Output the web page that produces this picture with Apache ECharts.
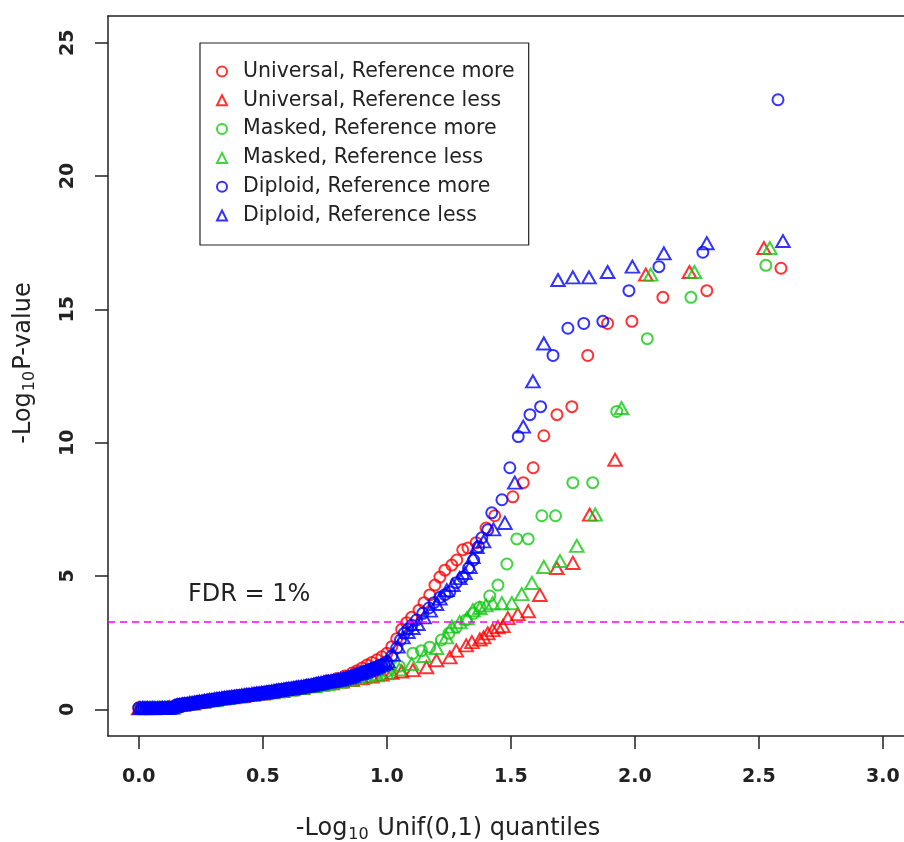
<!DOCTYPE html>
<html>
<head>
<meta charset="utf-8">
<title>QQ plot</title>
<script src="https://cdn.jsdelivr.net/npm/echarts@6/dist/echarts.min.js"></script>
<style>
  html, body { margin: 0; padding: 0; background: #fff; }
  #main { width: 904px; height: 842px; }
</style>
</head>
<body>
<div id="main"></div>
<script>
// tick values
var xTicks = [0, 0.5, 1.0, 1.5, 2.0, 2.5, 3.0];
var yTicks = [0, 5, 10, 15, 20, 25];
var fdrLevel = 3.3;

var seriesNames = [
  'Universal, Reference more', 'Universal, Reference less',
  'Masked, Reference more', 'Masked, Reference less',
  'Diploid, Reference more', 'Diploid, Reference less'
];

var universalMore = [
  [0.00,0.06],[0.02,0.06],[0.04,0.06],[0.06,0.06],[0.08,0.06],[0.10,0.07],[0.12,0.08],[0.14,0.10],
  [0.16,0.18],[0.18,0.21],[0.20,0.24],[0.24,0.30],[0.28,0.36],[0.32,0.42],[0.36,0.47],[0.40,0.52],
  [0.44,0.57],[0.48,0.62],[0.52,0.67],[0.56,0.73],[0.60,0.79],[0.64,0.85],[0.68,0.91],[0.72,0.99],
  [0.76,1.07],[0.80,1.16],[0.83,1.25],[0.86,1.36],[0.88,1.45],[0.90,1.55],[0.92,1.66],[0.94,1.76],
  [0.96,1.86],[0.98,1.97],[1.00,2.10],[1.02,2.35],[1.04,2.65],[1.06,3.00],[1.08,3.25],[1.10,3.45],
  [1.13,3.72],[1.15,4.00],[1.173,4.29],[1.194,4.66],[1.214,4.96],[1.234,5.22],[1.262,5.41],[1.282,5.60],
  [1.306,5.98],[1.327,6.05],[1.36,6.25],[1.40,6.80],[1.435,7.26],[1.508,7.97],[1.55,8.50],[1.59,9.06],
  [1.633,10.26],[1.686,11.05],[1.746,11.35],[1.81,13.27],[1.89,14.47],[1.988,14.55],[2.113,15.45],
  [2.29,15.70],[2.589,16.54]
];
var universalLess = [
  [0.00,0.04],[0.03,0.04],[0.06,0.04],[0.09,0.05],[0.12,0.06],[0.15,0.12],[0.18,0.17],[0.22,0.22],
  [0.26,0.28],[0.30,0.34],[0.34,0.40],[0.38,0.45],[0.42,0.50],[0.46,0.55],[0.50,0.59],[0.54,0.64],
  [0.58,0.69],[0.62,0.75],[0.66,0.80],[0.70,0.86],[0.74,0.92],[0.78,0.98],[0.82,1.04],[0.86,1.10],
  [0.90,1.16],[0.94,1.23],[0.98,1.30],[1.02,1.37],[1.06,1.42],[1.105,1.47],[1.16,1.58],[1.20,1.84],
  [1.254,1.95],[1.28,2.20],[1.32,2.40],[1.343,2.52],[1.375,2.62],[1.39,2.70],[1.407,2.85],[1.427,2.97],
  [1.448,3.08],[1.468,3.12],[1.488,3.42],[1.528,3.57],[1.57,3.68],[1.617,4.29],[1.685,5.30],[1.75,5.49],
  [1.818,7.30],[1.92,9.36],[2.044,16.30],[2.22,16.40],[2.52,17.30]
];
var maskedMore = [
  [0.01,0.05],[0.04,0.05],[0.07,0.05],[0.10,0.06],[0.13,0.07],[0.16,0.15],[0.20,0.20],[0.25,0.27],
  [0.30,0.34],[0.35,0.41],[0.40,0.47],[0.45,0.53],[0.50,0.59],[0.55,0.66],[0.60,0.72],[0.65,0.79],
  [0.70,0.86],[0.75,0.94],[0.80,1.02],[0.85,1.10],[0.90,1.20],[0.95,1.30],[1.00,1.42],[1.05,1.62],
  [1.105,2.10],[1.14,2.20],[1.173,2.33],[1.22,2.60],[1.25,2.85],[1.28,3.08],[1.32,3.35],[1.35,3.60],
  [1.375,3.83],[1.415,4.25],[1.448,4.66],[1.484,5.45],[1.524,6.39],[1.57,6.39],[1.625,7.26],[1.68,7.26],
  [1.75,8.50],[1.83,8.50],[1.927,11.17],[2.05,13.90],[2.226,15.45],[2.528,16.65]
];
var maskedLess = [
  [0.02,0.05],[0.05,0.05],[0.08,0.05],[0.11,0.06],[0.14,0.08],[0.17,0.17],[0.21,0.22],[0.26,0.29],
  [0.31,0.35],[0.36,0.42],[0.41,0.48],[0.46,0.54],[0.51,0.60],[0.56,0.67],[0.61,0.73],[0.66,0.80],
  [0.71,0.87],[0.76,0.95],[0.81,1.03],[0.86,1.11],[0.91,1.20],[0.96,1.28],[1.00,1.35],[1.05,1.50],
  [1.10,1.70],[1.15,2.00],[1.20,2.30],[1.24,2.70],[1.262,3.10],[1.294,3.27],[1.323,3.42],[1.347,3.72],
  [1.375,3.80],[1.40,3.90],[1.427,3.98],[1.464,3.98],[1.504,3.98],[1.544,4.32],[1.585,4.74],[1.633,5.34],
  [1.698,5.56],[1.766,6.13],[1.84,7.30],[1.946,11.30],[2.064,16.30],[2.24,16.40],[2.544,17.30]
];
var diploidMore = [
  [0.00,0.05],[0.01,0.05],[0.02,0.05],[0.03,0.05],[0.04,0.05],[0.05,0.05],[0.06,0.05],[0.07,0.05],
  [0.08,0.05],[0.09,0.06],[0.10,0.06],[0.11,0.06],[0.12,0.07],[0.13,0.07],[0.14,0.08],[0.15,0.15],
  [0.16,0.17],[0.17,0.18],[0.18,0.19],[0.19,0.21],[0.20,0.22],[0.21,0.24],[0.22,0.25],[0.23,0.27],
  [0.24,0.28],[0.25,0.30],[0.26,0.31],[0.27,0.33],[0.28,0.34],[0.29,0.36],[0.30,0.37],[0.31,0.38],
  [0.32,0.40],[0.33,0.41],[0.34,0.43],[0.35,0.44],[0.36,0.45],[0.37,0.46],[0.38,0.48],[0.39,0.49],
  [0.40,0.50],[0.41,0.51],[0.42,0.52],[0.43,0.54],[0.44,0.55],[0.45,0.56],[0.46,0.57],[0.47,0.59],
  [0.48,0.60],[0.49,0.61],[0.50,0.62],[0.51,0.64],[0.52,0.65],[0.53,0.67],[0.54,0.68],[0.55,0.70],
  [0.56,0.71],[0.57,0.73],[0.58,0.74],[0.59,0.76],[0.60,0.77],[0.61,0.78],[0.62,0.80],[0.63,0.81],
  [0.64,0.83],[0.65,0.84],[0.66,0.86],[0.67,0.87],[0.68,0.89],[0.69,0.90],[0.70,0.92],[0.71,0.94],
  [0.72,0.96],[0.73,0.98],[0.74,1.00],[0.75,1.02],[0.76,1.04],[0.77,1.05],[0.78,1.07],[0.79,1.08],
  [0.80,1.10],[0.81,1.12],[0.82,1.14],[0.83,1.17],[0.84,1.19],[0.85,1.22],[0.86,1.25],[0.87,1.28],
  [0.88,1.32],[0.89,1.35],[0.90,1.38],[0.91,1.41],[0.92,1.45],[0.93,1.48],[0.94,1.52],[0.95,1.55],
  [0.96,1.59],[0.97,1.63],[0.98,1.67],[0.99,1.71],[1.00,1.78],[1.02,2.00],[1.04,2.30],[1.055,2.60],
  [1.07,2.85],[1.085,3.00],[1.10,3.15],[1.12,3.35],[1.145,3.60],[1.17,3.80],[1.19,4.00],[1.214,4.20],
  [1.234,4.30],[1.254,4.40],[1.28,4.75],[1.306,4.96],[1.33,5.30],[1.35,5.60],[1.37,6.10],[1.383,6.43],
  [1.407,6.73],[1.423,7.37],[1.464,7.86],[1.496,9.06],[1.53,10.23],[1.577,11.05],[1.62,11.35],
  [1.67,13.27],[1.73,14.29],[1.794,14.47],[1.871,14.55],[1.976,15.70],[2.097,16.60],[2.274,17.14],
  [2.577,22.86]
];
var diploidLess = [
  [0.005,0.05],[0.015,0.05],[0.025,0.05],[0.035,0.05],[0.045,0.05],[0.055,0.05],[0.065,0.05],[0.075,0.05],
  [0.085,0.05],[0.095,0.06],[0.105,0.06],[0.115,0.06],[0.125,0.07],[0.135,0.07],[0.145,0.12],[0.155,0.16],
  [0.165,0.17],[0.175,0.19],[0.185,0.20],[0.195,0.21],[0.205,0.23],[0.215,0.24],[0.225,0.26],[0.235,0.27],
  [0.245,0.29],[0.255,0.30],[0.265,0.32],[0.275,0.33],[0.285,0.35],[0.295,0.36],[0.305,0.38],[0.315,0.39],
  [0.325,0.40],[0.335,0.42],[0.345,0.43],[0.355,0.44],[0.365,0.45],[0.375,0.47],[0.385,0.48],[0.395,0.49],
  [0.405,0.50],[0.415,0.52],[0.425,0.53],[0.435,0.54],[0.445,0.55],[0.455,0.57],[0.465,0.58],[0.475,0.59],
  [0.485,0.60],[0.495,0.62],[0.505,0.63],[0.515,0.64],[0.525,0.66],[0.535,0.67],[0.545,0.69],[0.555,0.70],
  [0.565,0.72],[0.575,0.73],[0.585,0.75],[0.595,0.76],[0.605,0.78],[0.615,0.79],[0.625,0.81],[0.635,0.82],
  [0.645,0.83],[0.655,0.85],[0.665,0.86],[0.675,0.88],[0.685,0.89],[0.695,0.91],[0.705,0.93],[0.715,0.95],
  [0.725,0.97],[0.735,0.99],[0.745,1.01],[0.755,1.03],[0.765,1.04],[0.775,1.06],[0.785,1.07],[0.795,1.09],
  [0.805,1.11],[0.815,1.13],[0.825,1.15],[0.835,1.18],[0.845,1.20],[0.855,1.23],[0.865,1.26],[0.875,1.30],
  [0.885,1.33],[0.895,1.36],[0.905,1.40],[0.915,1.43],[0.925,1.46],[0.935,1.50],[0.945,1.53],[0.955,1.57],
  [0.965,1.61],[0.975,1.65],[0.985,1.69],[0.995,1.74],[1.005,1.80],[1.025,2.05],[1.045,2.35],[1.065,2.70],
  [1.085,2.90],[1.105,3.05],[1.125,3.20],[1.15,3.45],[1.175,3.70],[1.20,3.95],[1.214,4.15],[1.242,4.47],
  [1.266,4.66],[1.294,4.92],[1.315,5.11],[1.335,5.34],[1.347,5.71],[1.363,6.09],[1.39,6.30],[1.43,6.75],
  [1.476,6.99],[1.516,8.50],[1.55,10.60],[1.589,12.30],[1.633,13.72],[1.69,16.10],[1.75,16.20],
  [1.815,16.20],[1.89,16.40],[1.99,16.60],[2.117,17.10],[2.29,17.48],[2.597,17.56]
];

var seriesData = [universalMore, universalLess, maskedMore, maskedLess, diploidMore, diploidLess];
var colors = ['#ff0000', '#ff0000', '#12c812', '#12c812', '#0000ff', '#0000ff'];
var symbols = ['circle', 'triangle', 'circle', 'triangle', 'circle', 'triangle'];

var FONT = 'DejaVu Sans';
var INK = '#222';
var X_MIN = -0.124, X_MAX = 3.085;
var chart = echarts.init(document.getElementById('main'));

var series = [];
var legendData = [];
for (var i = 0; i < seriesData.length; i++) {
  series.push({
    name: seriesNames[i],
    type: 'scatter',
    data: seriesData[i],
    symbol: symbols[i],
    symbolSize: symbols[i] === 'circle' ? 11 : [13.5, 12],
    itemStyle: {color: 'rgba(0,0,0,0)', borderColor: colors[i], borderWidth: 2},
    emphasis: {disabled: true}
  });
  legendData.push({
    name: seriesNames[i],
    icon: symbols[i],
    itemStyle: {color: 'rgba(0,0,0,0)', borderColor: colors[i], borderWidth: 2}
  });
}

// FDR 1% threshold
series[0].markLine = {
  silent: true,
  symbol: ['none', 'none'],
  label: {show: false},
  lineStyle: {color: '#ff00ff', type: [7, 5], width: 1.6},
  data: [{yAxis: fdrLevel}]
};

var frameLine = {show: true, onZero: false, lineStyle: {color: INK, width: 1.5}};

var option = {
  animation: false,
  backgroundColor: '#fff',
  grid: {left: 108, top: 16, right: 0, height: 720},
  xAxis: [{
    type: 'value', min: X_MIN, max: X_MAX,
    splitLine: {show: false},
    axisLine: frameLine,
    axisTick: {show: true, length: 13, customValues: xTicks, lineStyle: {color: INK, width: 1.5}},
    axisLabel: {customValues: xTicks, margin: 32, fontFamily: FONT, fontSize: 19, fontWeight: 'bold', color: INK,
      formatter: function (v) { return v.toFixed(1); }}
  }, {
    // top edge of the box
    type: 'value', position: 'top', min: X_MIN, max: X_MAX,
    splitLine: {show: false}, axisTick: {show: false}, axisLabel: {show: false},
    axisLine: frameLine
  }],
  yAxis: {
    type: 'value', min: -1, max: 26,
    splitLine: {show: false},
    axisLine: frameLine,
    axisTick: {show: true, length: 13, customValues: yTicks, lineStyle: {color: INK, width: 1.5}},
    axisLabel: {customValues: yTicks, rotate: 90, margin: 30, fontFamily: FONT, fontSize: 19, fontWeight: 'bold', color: INK}
  },
  legend: {
    orient: 'vertical', left: 200, top: 43,
    padding: [18, 14, 19, 16],
    itemWidth: 10, itemHeight: 10, itemGap: 7.8,
    backgroundColor: '#fff', borderColor: INK, borderWidth: 1.2,
    textStyle: {fontFamily: FONT, fontSize: 20.5, lineHeight: 20, color: INK, padding: [0, 0, 0, 11]},
    data: legendData
  },
  graphic: [
    {type: 'text', left: 188, top: 583, style: {text: 'FDR = 1%', font: '24px "DejaVu Sans"', fill: INK}},
    {type: 'text', x: 448, y: 829, style: {
      text: '-Log{s|10} Unif(0,1) quantiles', font: '24px "DejaVu Sans"', fill: INK,
      align: 'center', verticalAlign: 'middle',
      rich: {s: {fontSize: 16, fontFamily: FONT, padding: [11, 1, 0, 1], fill: INK}}}},
    {type: 'text', x: 24, y: 363, rotation: Math.PI / 2, style: {
      text: '-Log{s|10}P-value', font: '24px "DejaVu Sans"', fill: INK,
      align: 'center', verticalAlign: 'middle',
      rich: {s: {fontSize: 16, fontFamily: FONT, padding: [11, 1, 0, 1], fill: INK}}}}
  ],
  series: series
};
chart.setOption(option);
</script>
</body>
</html>
